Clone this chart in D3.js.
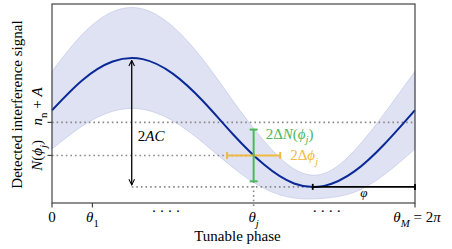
<!DOCTYPE html>
<html>
<head>
<meta charset="utf-8">
<script src="https://cdn.jsdelivr.net/npm/d3@7"></script>
<style>
  body { margin: 0; background: #fff; }
  #chart text { font-family: "Liberation Serif", "Times New Roman", Times, serif; }
</style>
</head>
<body>
<svg id="chart" width="452" height="249"></svg>
<script>
const phase  = [0, 0.52, 1.05, 1.57, 2.09, 2.62, 3.14, 3.67, 4.19, 4.71, 5.24, 5.76, 6.28];
const signal = [0.466, 0.616, 0.711, 0.723, 0.650, 0.510, 0.343, 0.193, 0.098, 0.086, 0.160, 0.298, 0.466];
const noise  = [0.195, 0.230, 0.250, 0.252, 0.237, 0.208, 0.167, 0.119, 0.073, 0.062, 0.105, 0.154, 0.195];

// annotation levels
const meanLevel = 0.405;   // n_n + A
const maxLevel = 0.729;
const minLevel = 0.081;
const thetaPeak = 1.38;
const theta1 = 0.70;
const thetaJ = 3.49;
const signalJ = 0.239;     // N(phi_j)
const deltaN = 0.13;
const deltaPhi = 0.46;
const varphi = 1.77;       // offset of the minimum from 2pi

const margin = { top: 4, right: 37, bottom: 46, left: 52 };
const W = 452, H = 249;
const width = W - margin.left - margin.right;
const height = H - margin.top - margin.bottom;

const svg = d3.select("#chart");
const g = svg.append("g").attr("transform", `translate(${margin.left},${margin.top})`);

const x = d3.scaleLinear().domain([0, 2 * Math.PI]).range([0, width]);
const y = d3.scaleLinear().domain([0, 1]).range([height, 0]);

const pts = phase.map((p, i) => ({ p, s: signal[i], n: noise[i] }));

// noise band
g.append("path")
  .datum(pts)
  .attr("d", d3.area().curve(d3.curveNatural)
    .x(d => x(d.p)).y0(d => y(d.s - d.n)).y1(d => y(d.s + d.n)))
  .attr("fill", "#dfe2f3")
  .attr("stroke", "#c8cdea")
  .attr("stroke-width", 0.8);

// dotted guides
const dotted = (x1, y1, x2, y2) => g.append("line")
  .attr("x1", x1).attr("y1", y1).attr("x2", x2).attr("y2", y2)
  .attr("stroke", "#8a8a8a").attr("stroke-width", 1.6)
  .attr("stroke-dasharray", "1.6 3");

dotted(x(0), y(meanLevel), x(2 * Math.PI), y(meanLevel));
dotted(x(0), y(signalJ), x(thetaJ), y(signalJ));
dotted(x(thetaPeak), y(minLevel), x(2 * Math.PI - varphi), y(minLevel));
dotted(x(thetaJ), y(signalJ - deltaN), x(thetaJ), height + 4);

// the signal curve
g.append("path")
  .datum(pts)
  .attr("d", d3.line().curve(d3.curveNatural).x(d => x(d.p)).y(d => y(d.s)))
  .attr("fill", "none")
  .attr("stroke", "#0b2a97")
  .attr("stroke-width", 2);

// frame
g.append("rect")
  .attr("width", width).attr("height", height)
  .attr("fill", "none").attr("stroke", "#444").attr("stroke-width", 1.2);

// ticks
const tickColor = "#444";
[0, theta1, 2 * Math.PI].forEach(t => g.append("line")
  .attr("x1", x(t)).attr("x2", x(t)).attr("y1", height).attr("y2", height + 4.5)
  .attr("stroke", tickColor).attr("stroke-width", 1.2));
[meanLevel, signalJ].forEach(v => g.append("line")
  .attr("x1", -4.5).attr("x2", 0).attr("y1", y(v)).attr("y2", y(v))
  .attr("stroke", tickColor).attr("stroke-width", 1.2));

// arrow markers
const defs = svg.append("defs");
defs.append("marker").attr("id", "head").attr("viewBox", "0 0 10 10")
  .attr("refX", 9).attr("refY", 5).attr("markerWidth", 7).attr("markerHeight", 7)
  .attr("orient", "auto-start-reverse").attr("markerUnits", "userSpaceOnUse")
  .append("path").attr("d", "M1,1 L9,5 L1,9").attr("fill", "none")
  .attr("stroke", "#000").attr("stroke-width", 1.5);

// 2AC arrow
g.append("line")
  .attr("x1", x(thetaPeak)).attr("x2", x(thetaPeak))
  .attr("y1", y(maxLevel) + 2.5).attr("y2", y(minLevel) - 2)
  .attr("stroke", "#000").attr("stroke-width", 1.3)
  .attr("marker-start", "url(#head)").attr("marker-end", "url(#head)");

// error bars
const bar = (x1, y1, x2, y2, color) => g.append("line")
  .attr("x1", x1).attr("y1", y1).attr("x2", x2).attr("y2", y2)
  .attr("stroke", color).attr("stroke-width", 2);
const green = "#4cb85c", orange = "#f1b943";
bar(x(thetaJ - deltaPhi), y(signalJ), x(thetaJ + deltaPhi), y(signalJ), orange);
[thetaJ - deltaPhi, thetaJ + deltaPhi].forEach(t =>
  bar(x(t), y(signalJ) - 3.5, x(t), y(signalJ) + 3.5, orange));
bar(x(thetaJ), y(signalJ + deltaN), x(thetaJ), y(signalJ - deltaN), green);
[signalJ + deltaN, signalJ - deltaN].forEach(v =>
  bar(x(thetaJ) - 4, y(v), x(thetaJ) + 4, y(v), green));

// varphi bracket
const phiStart = 2 * Math.PI - varphi;
g.append("line").attr("x1", x(phiStart)).attr("x2", x(2 * Math.PI))
  .attr("y1", y(minLevel)).attr("y2", y(minLevel))
  .attr("stroke", "#000").attr("stroke-width", 1.8);
[phiStart, 2 * Math.PI].forEach(t => g.append("line")
  .attr("x1", x(t)).attr("x2", x(t)).attr("y1", y(minLevel) - 3).attr("y2", y(minLevel) + 3)
  .attr("stroke", "#000").attr("stroke-width", 1.8));

// math text helper: parts = [[text, italic, sub]]
function mathText(parent, parts, attrs, size) {
  const t = parent.append("text").style("font-size", size + "px");
  Object.entries(attrs).forEach(([k, v]) => t.attr(k, v));
  let shift = 0;
  parts.forEach(([s, it, sub]) => {
    const sp = t.append("tspan").text(s).style("font-style", it ? "italic" : "normal");
    const want = sub ? size * 0.3 : 0;
    if (want !== shift) { sp.attr("dy", want - shift); shift = want; }
    if (sub) sp.style("font-size", (size * 0.72) + "px");
  });
  return t;
}
const plain = (attrs, s, size) => mathText(g, [[s]], attrs, size);

const fs = 15;
// x tick labels
const xl = height + 19;
plain({ x: x(0), y: xl, "text-anchor": "middle" }, "0", fs);
mathText(g, [["θ", true], ["1", false, true]], { x: x(theta1), y: xl, "text-anchor": "middle" }, fs);
mathText(g, [["θ", true], ["j", true, true]], { x: x(thetaJ), y: xl, "text-anchor": "middle" }, fs);
mathText(g, [["θ", true], ["M", true, true], [" = 2"], ["π", true]],
  { x: x(2 * Math.PI) + 2, y: xl, "text-anchor": "middle" }, fs);
plain({ x: x(2.0), y: height + 13, "text-anchor": "middle", "letter-spacing": 3 }, "····", fs);
plain({ x: x(4.78), y: height + 13, "text-anchor": "middle", "letter-spacing": 3 }, "····", fs);

plain({ x: x(Math.PI) + 4, y: height + 38, "text-anchor": "middle" }, "Tunable phase", fs);

// y labels
plain({ transform: `translate(${-30},${height / 2 + 1}) rotate(-90)`, "text-anchor": "middle" },
  "Detected interference signal", fs);
mathText(g, [["n", true], ["n", false, true], [" + "], ["A", true]],
  { transform: `translate(-10,${y(meanLevel) - 16}) rotate(-90)`, "text-anchor": "middle" }, fs);
mathText(g, [["N", true], ["("], ["ϕ", true], ["j", true, true], [")"]],
  { transform: `translate(-10,${y(signalJ)}) rotate(-90)`, "text-anchor": "middle" }, fs);

// annotation labels
mathText(g, [["2"], ["AC", true]], { x: x(thetaPeak) + 6, y: y(meanLevel) + 19 }, fs);
mathText(g, [["2Δ"], ["N", true], ["("], ["ϕ", true], ["j", true, true], [")"]],
  { x: x(thetaJ) + 12, y: y(signalJ + deltaN) + 9, fill: green }, fs);
mathText(g, [["2Δ"], ["ϕ", true], ["j", true, true]],
  { x: x(thetaJ + deltaPhi) + 10, y: y(signalJ) + 5, fill: orange }, fs);
mathText(g, [["φ", true]], { x: x(phiStart + varphi / 2), y: y(minLevel) + 10, "text-anchor": "middle" }, 13);
</script>
</body>
</html>
